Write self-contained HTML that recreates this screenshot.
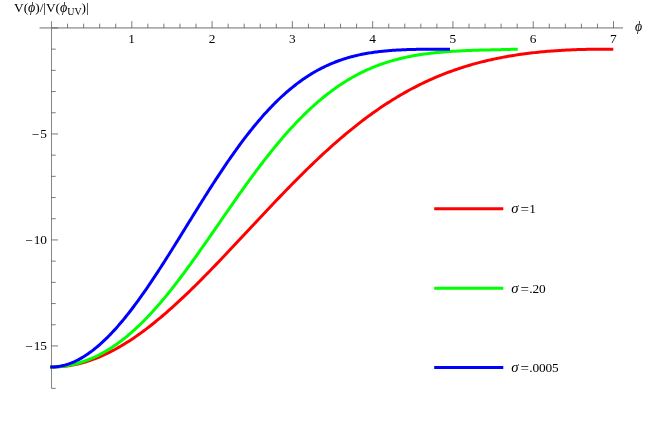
<!DOCTYPE html>
<html><head><meta charset="utf-8"><title>plot</title>
<style>
html,body{margin:0;padding:0;background:#fff;}
body{width:665px;height:427px;overflow:hidden;font-family:"Liberation Serif",serif;}
svg{display:block;will-change:transform;}
</style></head><body>
<svg width="665" height="427" viewBox="0 0 665 427">
<rect x="0" y="0" width="665" height="427" fill="#ffffff"/>
<g stroke="#555" stroke-width="0.85" fill="none">
<line x1="39.5" y1="27.95" x2="623" y2="27.95"/>
<line x1="51.5" y1="21.2" x2="51.5" y2="388.4" stroke="#868686" stroke-width="1"/>
<line x1="67.56" y1="27.95" x2="67.56" y2="23.65" stroke-width="0.7" stroke="#444"/>
<line x1="83.62" y1="27.95" x2="83.62" y2="23.65" stroke-width="0.7" stroke="#444"/>
<line x1="99.67" y1="27.95" x2="99.67" y2="23.65" stroke-width="0.7" stroke="#444"/>
<line x1="115.73" y1="27.95" x2="115.73" y2="23.65" stroke-width="0.7" stroke="#444"/>
<line x1="131.79" y1="27.95" x2="131.79" y2="21.15" stroke-width="0.7" stroke="#444"/>
<line x1="147.85" y1="27.95" x2="147.85" y2="23.65" stroke-width="0.7" stroke="#444"/>
<line x1="163.91" y1="27.95" x2="163.91" y2="23.65" stroke-width="0.7" stroke="#444"/>
<line x1="179.96" y1="27.95" x2="179.96" y2="23.65" stroke-width="0.7" stroke="#444"/>
<line x1="196.02" y1="27.95" x2="196.02" y2="23.65" stroke-width="0.7" stroke="#444"/>
<line x1="212.08" y1="27.95" x2="212.08" y2="21.15" stroke-width="0.7" stroke="#444"/>
<line x1="228.14" y1="27.95" x2="228.14" y2="23.65" stroke-width="0.7" stroke="#444"/>
<line x1="244.20" y1="27.95" x2="244.20" y2="23.65" stroke-width="0.7" stroke="#444"/>
<line x1="260.25" y1="27.95" x2="260.25" y2="23.65" stroke-width="0.7" stroke="#444"/>
<line x1="276.31" y1="27.95" x2="276.31" y2="23.65" stroke-width="0.7" stroke="#444"/>
<line x1="292.37" y1="27.95" x2="292.37" y2="21.15" stroke-width="0.7" stroke="#444"/>
<line x1="308.43" y1="27.95" x2="308.43" y2="23.65" stroke-width="0.7" stroke="#444"/>
<line x1="324.49" y1="27.95" x2="324.49" y2="23.65" stroke-width="0.7" stroke="#444"/>
<line x1="340.54" y1="27.95" x2="340.54" y2="23.65" stroke-width="0.7" stroke="#444"/>
<line x1="356.60" y1="27.95" x2="356.60" y2="23.65" stroke-width="0.7" stroke="#444"/>
<line x1="372.66" y1="27.95" x2="372.66" y2="21.15" stroke-width="0.7" stroke="#444"/>
<line x1="388.72" y1="27.95" x2="388.72" y2="23.65" stroke-width="0.7" stroke="#444"/>
<line x1="404.78" y1="27.95" x2="404.78" y2="23.65" stroke-width="0.7" stroke="#444"/>
<line x1="420.83" y1="27.95" x2="420.83" y2="23.65" stroke-width="0.7" stroke="#444"/>
<line x1="436.89" y1="27.95" x2="436.89" y2="23.65" stroke-width="0.7" stroke="#444"/>
<line x1="452.95" y1="27.95" x2="452.95" y2="21.15" stroke-width="0.7" stroke="#444"/>
<line x1="469.01" y1="27.95" x2="469.01" y2="23.65" stroke-width="0.7" stroke="#444"/>
<line x1="485.07" y1="27.95" x2="485.07" y2="23.65" stroke-width="0.7" stroke="#444"/>
<line x1="501.12" y1="27.95" x2="501.12" y2="23.65" stroke-width="0.7" stroke="#444"/>
<line x1="517.18" y1="27.95" x2="517.18" y2="23.65" stroke-width="0.7" stroke="#444"/>
<line x1="533.24" y1="27.95" x2="533.24" y2="21.15" stroke-width="0.7" stroke="#444"/>
<line x1="549.30" y1="27.95" x2="549.30" y2="23.65" stroke-width="0.7" stroke="#444"/>
<line x1="565.36" y1="27.95" x2="565.36" y2="23.65" stroke-width="0.7" stroke="#444"/>
<line x1="581.41" y1="27.95" x2="581.41" y2="23.65" stroke-width="0.7" stroke="#444"/>
<line x1="597.47" y1="27.95" x2="597.47" y2="23.65" stroke-width="0.7" stroke="#444"/>
<line x1="613.53" y1="27.95" x2="613.53" y2="21.15" stroke-width="0.7" stroke="#444"/>
<line x1="51.5" y1="27.95" x2="58.10" y2="27.95" stroke-width="0.7" stroke="#444"/>
<line x1="51.5" y1="49.15" x2="55.70" y2="49.15" stroke-width="0.7" stroke="#444"/>
<line x1="51.5" y1="70.35" x2="55.70" y2="70.35" stroke-width="0.7" stroke="#444"/>
<line x1="51.5" y1="91.55" x2="55.70" y2="91.55" stroke-width="0.7" stroke="#444"/>
<line x1="51.5" y1="112.75" x2="55.70" y2="112.75" stroke-width="0.7" stroke="#444"/>
<line x1="51.5" y1="133.95" x2="58.10" y2="133.95" stroke-width="0.7" stroke="#444"/>
<line x1="51.5" y1="155.15" x2="55.70" y2="155.15" stroke-width="0.7" stroke="#444"/>
<line x1="51.5" y1="176.35" x2="55.70" y2="176.35" stroke-width="0.7" stroke="#444"/>
<line x1="51.5" y1="197.55" x2="55.70" y2="197.55" stroke-width="0.7" stroke="#444"/>
<line x1="51.5" y1="218.75" x2="55.70" y2="218.75" stroke-width="0.7" stroke="#444"/>
<line x1="51.5" y1="239.95" x2="58.10" y2="239.95" stroke-width="0.7" stroke="#444"/>
<line x1="51.5" y1="261.15" x2="55.70" y2="261.15" stroke-width="0.7" stroke="#444"/>
<line x1="51.5" y1="282.35" x2="55.70" y2="282.35" stroke-width="0.7" stroke="#444"/>
<line x1="51.5" y1="303.55" x2="55.70" y2="303.55" stroke-width="0.7" stroke="#444"/>
<line x1="51.5" y1="324.75" x2="55.70" y2="324.75" stroke-width="0.7" stroke="#444"/>
<line x1="51.5" y1="345.95" x2="58.10" y2="345.95" stroke-width="0.7" stroke="#444"/>
<line x1="51.5" y1="367.15" x2="55.70" y2="367.15" stroke-width="0.7" stroke="#444"/>
<line x1="51.5" y1="388.35" x2="55.70" y2="388.35" stroke-width="0.7" stroke="#444"/>
</g>
<g font-family="Liberation Serif, serif" font-size="13.33" fill="#000">
<text x="131.69" y="43.3" text-anchor="middle">1</text>
<text x="211.98" y="43.3" text-anchor="middle">2</text>
<text x="292.27" y="43.3" text-anchor="middle">3</text>
<text x="372.56" y="43.3" text-anchor="middle">4</text>
<text x="452.85" y="43.3" text-anchor="middle">5</text>
<text x="533.14" y="43.3" text-anchor="middle">6</text>
<text x="613.43" y="43.3" text-anchor="middle">7</text>
<text x="47.0" y="138.25" text-anchor="end"><tspan dy="0.9">−</tspan><tspan dx="1.0" dy="-0.9">5</tspan></text>
<text x="47.0" y="244.25" text-anchor="end"><tspan dy="0.9">−</tspan><tspan dx="1.0" dy="-0.9">10</tspan></text>
<text x="47.0" y="350.25" text-anchor="end"><tspan dy="0.9">−</tspan><tspan dx="1.0" dy="-0.9">15</tspan></text>
</g>
<path d="M50.30,366.99 L51.50,366.99 L53.38,366.97 L55.26,366.93 L57.14,366.85 L59.02,366.74 L60.89,366.60 L62.77,366.43 L64.65,366.23 L66.53,366.00 L68.41,365.73 L70.29,365.43 L72.17,365.11 L74.05,364.75 L75.93,364.36 L77.81,363.94 L79.68,363.48 L81.56,363.00 L83.44,362.49 L85.32,361.94 L87.20,361.37 L89.08,360.76 L90.96,360.13 L92.84,359.46 L94.72,358.77 L96.59,358.04 L98.47,357.29 L100.35,356.50 L102.23,355.69 L104.11,354.85 L105.99,353.98 L107.87,353.08 L109.75,352.15 L111.63,351.20 L113.50,350.21 L115.38,349.20 L117.26,348.17 L119.14,347.10 L121.02,346.01 L122.90,344.90 L124.78,343.75 L126.66,342.59 L128.54,341.39 L130.42,340.18 L132.29,338.93 L134.17,337.67 L136.05,336.38 L137.93,335.06 L139.81,333.73 L141.69,332.37 L143.57,330.98 L145.45,329.58 L147.33,328.15 L149.20,326.71 L151.08,325.24 L152.96,323.75 L154.84,322.24 L156.72,320.71 L158.60,319.16 L160.48,317.59 L162.36,316.01 L164.24,314.40 L166.11,312.78 L167.99,311.14 L169.87,309.48 L171.75,307.81 L173.63,306.12 L175.51,304.41 L177.39,302.69 L179.27,300.95 L181.15,299.20 L183.03,297.43 L184.90,295.65 L186.78,293.86 L188.66,292.05 L190.54,290.24 L192.42,288.40 L194.30,286.56 L196.18,284.71 L198.06,282.84 L199.94,280.96 L201.81,279.08 L203.69,277.18 L205.57,275.27 L207.45,273.36 L209.33,271.43 L211.21,269.50 L213.09,267.56 L214.97,265.61 L216.85,263.66 L218.72,261.70 L220.60,259.73 L222.48,257.76 L224.36,255.78 L226.24,253.80 L228.12,251.81 L230.00,249.82 L231.88,247.82 L233.76,245.82 L235.64,243.82 L237.51,241.82 L239.39,239.81 L241.27,237.80 L243.15,235.79 L245.03,233.78 L246.91,231.77 L248.79,229.76 L250.67,227.75 L252.55,225.74 L254.42,223.73 L256.30,221.72 L258.18,219.71 L260.06,217.71 L261.94,215.71 L263.82,213.71 L265.70,211.71 L267.58,209.72 L269.46,207.73 L271.33,205.74 L273.21,203.76 L275.09,201.79 L276.97,199.82 L278.85,197.85 L280.73,195.90 L282.61,193.94 L284.49,192.00 L286.37,190.06 L288.25,188.13 L290.12,186.20 L292.00,184.29 L293.88,182.38 L295.76,180.48 L297.64,178.59 L299.52,176.71 L301.40,174.84 L303.28,172.98 L305.16,171.13 L307.03,169.29 L308.91,167.45 L310.79,165.63 L312.67,163.83 L314.55,162.03 L316.43,160.24 L318.31,158.47 L320.19,156.71 L322.07,154.96 L323.94,153.22 L325.82,151.50 L327.70,149.78 L329.58,148.09 L331.46,146.40 L333.34,144.73 L335.22,143.07 L337.10,141.43 L338.98,139.80 L340.86,138.19 L342.73,136.59 L344.61,135.00 L346.49,133.43 L348.37,131.87 L350.25,130.33 L352.13,128.81 L354.01,127.30 L355.89,125.80 L357.77,124.33 L359.64,122.86 L361.52,121.42 L363.40,119.99 L365.28,118.57 L367.16,117.17 L369.04,115.79 L370.92,114.42 L372.80,113.07 L374.68,111.74 L376.55,110.42 L378.43,109.12 L380.31,107.84 L382.19,106.57 L384.07,105.32 L385.95,104.08 L387.83,102.87 L389.71,101.66 L391.59,100.48 L393.47,99.31 L395.34,98.16 L397.22,97.03 L399.10,95.91 L400.98,94.81 L402.86,93.72 L404.74,92.65 L406.62,91.60 L408.50,90.56 L410.38,89.54 L412.25,88.54 L414.13,87.55 L416.01,86.58 L417.89,85.63 L419.77,84.69 L421.65,83.76 L423.53,82.86 L425.41,81.97 L427.29,81.09 L429.16,80.23 L431.04,79.38 L432.92,78.55 L434.80,77.74 L436.68,76.94 L438.56,76.15 L440.44,75.38 L442.32,74.63 L444.20,73.89 L446.08,73.16 L447.95,72.45 L449.83,71.75 L451.71,71.07 L453.59,70.40 L455.47,69.74 L457.35,69.10 L459.23,68.47 L461.11,67.86 L462.99,67.25 L464.86,66.66 L466.74,66.09 L468.62,65.52 L470.50,64.97 L472.38,64.43 L474.26,63.91 L476.14,63.39 L478.02,62.89 L479.90,62.40 L481.77,61.92 L483.65,61.45 L485.53,61.00 L487.41,60.55 L489.29,60.12 L491.17,59.69 L493.05,59.28 L494.93,58.88 L496.81,58.49 L498.69,58.11 L500.56,57.73 L502.44,57.37 L504.32,57.02 L506.20,56.68 L508.08,56.35 L509.96,56.03 L511.84,55.71 L513.72,55.41 L515.60,55.11 L517.47,54.83 L519.35,54.55 L521.23,54.28 L523.11,54.02 L524.99,53.77 L526.87,53.52 L528.75,53.29 L530.63,53.06 L532.51,52.84 L534.38,52.63 L536.26,52.42 L538.14,52.22 L540.02,52.03 L541.90,51.85 L543.78,51.67 L545.66,51.50 L547.54,51.34 L549.42,51.19 L551.30,51.04 L553.17,50.90 L555.05,50.76 L556.93,50.63 L558.81,50.51 L560.69,50.39 L562.57,50.28 L564.45,50.18 L566.33,50.08 L568.21,49.98 L570.08,49.90 L571.96,49.81 L573.84,49.74 L575.72,49.67 L577.60,49.60 L579.48,49.54 L581.36,49.49 L583.24,49.43 L585.12,49.39 L586.99,49.35 L588.87,49.31 L590.75,49.28 L592.63,49.25 L594.51,49.22 L596.39,49.20 L598.27,49.19 L600.15,49.17 L602.03,49.16 L603.91,49.15 L605.78,49.15 L607.66,49.14 L609.54,49.14 L611.42,49.14 L613.30,49.14" stroke="#ff0000" stroke-width="3" fill="none" stroke-linejoin="round"/>
<path d="M50.30,366.99 L51.50,366.99 L53.06,366.98 L54.62,366.94 L56.18,366.87 L57.74,366.77 L59.30,366.65 L60.86,366.51 L62.42,366.34 L63.98,366.14 L65.54,365.92 L67.10,365.67 L68.65,365.39 L70.21,365.09 L71.77,364.77 L73.33,364.42 L74.89,364.04 L76.45,363.64 L78.01,363.21 L79.57,362.76 L81.13,362.28 L82.69,361.77 L84.25,361.24 L85.81,360.68 L87.37,360.10 L88.93,359.49 L90.49,358.86 L92.05,358.20 L93.61,357.51 L95.17,356.79 L96.73,356.05 L98.29,355.29 L99.85,354.49 L101.41,353.67 L102.96,352.82 L104.52,351.95 L106.08,351.04 L107.64,350.11 L109.20,349.15 L110.76,348.17 L112.32,347.16 L113.88,346.12 L115.44,345.05 L117.00,343.95 L118.56,342.83 L120.12,341.68 L121.68,340.50 L123.24,339.29 L124.80,338.06 L126.36,336.80 L127.92,335.51 L129.48,334.20 L131.04,332.85 L132.60,331.48 L134.16,330.09 L135.71,328.66 L137.27,327.21 L138.83,325.74 L140.39,324.23 L141.95,322.71 L143.51,321.15 L145.07,319.57 L146.63,317.96 L148.19,316.33 L149.75,314.68 L151.31,313.00 L152.87,311.29 L154.43,309.57 L155.99,307.82 L157.55,306.04 L159.11,304.25 L160.67,302.43 L162.23,300.59 L163.79,298.72 L165.35,296.84 L166.91,294.94 L168.46,293.01 L170.02,291.07 L171.58,289.11 L173.14,287.13 L174.70,285.13 L176.26,283.11 L177.82,281.08 L179.38,279.03 L180.94,276.97 L182.50,274.89 L184.06,272.79 L185.62,270.69 L187.18,268.56 L188.74,266.43 L190.30,264.28 L191.86,262.12 L193.42,259.95 L194.98,257.78 L196.54,255.59 L198.10,253.39 L199.66,251.18 L201.22,248.97 L202.77,246.75 L204.33,244.52 L205.89,242.28 L207.45,240.05 L209.01,237.80 L210.57,235.55 L212.13,233.30 L213.69,231.05 L215.25,228.80 L216.81,226.54 L218.37,224.28 L219.93,222.03 L221.49,219.77 L223.05,217.52 L224.61,215.26 L226.17,213.01 L227.73,210.77 L229.29,208.52 L230.85,206.28 L232.41,204.05 L233.97,201.82 L235.52,199.59 L237.08,197.38 L238.64,195.17 L240.20,192.97 L241.76,190.77 L243.32,188.59 L244.88,186.41 L246.44,184.24 L248.00,182.09 L249.56,179.94 L251.12,177.81 L252.68,175.69 L254.24,173.58 L255.80,171.48 L257.36,169.40 L258.92,167.33 L260.48,165.27 L262.04,163.23 L263.60,161.20 L265.16,159.18 L266.72,157.19 L268.27,155.21 L269.83,153.24 L271.39,151.29 L272.95,149.36 L274.51,147.44 L276.07,145.55 L277.63,143.67 L279.19,141.80 L280.75,139.96 L282.31,138.13 L283.87,136.33 L285.43,134.54 L286.99,132.77 L288.55,131.02 L290.11,129.29 L291.67,127.59 L293.23,125.90 L294.79,124.23 L296.35,122.58 L297.91,120.95 L299.47,119.34 L301.03,117.76 L302.58,116.19 L304.14,114.64 L305.70,113.12 L307.26,111.62 L308.82,110.14 L310.38,108.68 L311.94,107.24 L313.50,105.82 L315.06,104.43 L316.62,103.05 L318.18,101.70 L319.74,100.37 L321.30,99.06 L322.86,97.77 L324.42,96.50 L325.98,95.26 L327.54,94.03 L329.10,92.83 L330.66,91.65 L332.22,90.49 L333.78,89.35 L335.33,88.24 L336.89,87.14 L338.45,86.06 L340.01,85.01 L341.57,83.98 L343.13,82.96 L344.69,81.97 L346.25,81.00 L347.81,80.05 L349.37,79.12 L350.93,78.21 L352.49,77.32 L354.05,76.44 L355.61,75.59 L357.17,74.76 L358.73,73.95 L360.29,73.15 L361.85,72.37 L363.41,71.62 L364.97,70.88 L366.53,70.16 L368.08,69.46 L369.64,68.77 L371.20,68.10 L372.76,67.45 L374.32,66.82 L375.88,66.21 L377.44,65.61 L379.00,65.02 L380.56,64.46 L382.12,63.91 L383.68,63.37 L385.24,62.85 L386.80,62.35 L388.36,61.86 L389.92,61.38 L391.48,60.92 L393.04,60.47 L394.60,60.04 L396.16,59.62 L397.72,59.22 L399.28,58.82 L400.84,58.44 L402.39,58.08 L403.95,57.72 L405.51,57.38 L407.07,57.05 L408.63,56.72 L410.19,56.42 L411.75,56.12 L413.31,55.83 L414.87,55.55 L416.43,55.28 L417.99,55.03 L419.55,54.78 L421.11,54.54 L422.67,54.31 L424.23,54.09 L425.79,53.88 L427.35,53.67 L428.91,53.48 L430.47,53.29 L432.03,53.11 L433.59,52.93 L435.14,52.77 L436.70,52.61 L438.26,52.46 L439.82,52.31 L441.38,52.17 L442.94,52.03 L444.50,51.91 L446.06,51.78 L447.62,51.66 L449.18,51.55 L450.74,51.44 L452.30,51.34 L453.86,51.24 L455.42,51.15 L456.98,51.06 L458.54,50.97 L460.10,50.89 L461.66,50.82 L463.22,50.74 L464.78,50.67 L466.34,50.60 L467.89,50.54 L469.45,50.48 L471.01,50.42 L472.57,50.36 L474.13,50.31 L475.69,50.26 L477.25,50.21 L478.81,50.16 L480.37,50.12 L481.93,50.08 L483.49,50.03 L485.05,49.99 L486.61,49.96 L488.17,49.92 L489.73,49.88 L491.29,49.85 L492.85,49.82 L494.41,49.78 L495.97,49.75 L497.53,49.72 L499.09,49.68 L500.65,49.65 L502.20,49.61 L503.76,49.58 L505.32,49.54 L506.88,49.50 L508.44,49.45 L510.00,49.41 L511.56,49.35 L513.12,49.30 L514.68,49.24 L516.24,49.18 L517.80,49.14" stroke="#00ff00" stroke-width="3" fill="none" stroke-linejoin="round"/>
<path d="M50.30,366.99 L51.50,366.99 L52.83,366.97 L54.17,366.91 L55.50,366.82 L56.83,366.69 L58.16,366.52 L59.50,366.32 L60.83,366.08 L62.16,365.80 L63.49,365.49 L64.83,365.15 L66.16,364.77 L67.49,364.35 L68.83,363.90 L70.16,363.42 L71.49,362.91 L72.82,362.36 L74.16,361.78 L75.49,361.16 L76.82,360.51 L78.16,359.84 L79.49,359.12 L80.82,358.38 L82.15,357.61 L83.49,356.81 L84.82,355.97 L86.15,355.10 L87.48,354.21 L88.82,353.28 L90.15,352.33 L91.48,351.34 L92.82,350.33 L94.15,349.29 L95.48,348.21 L96.81,347.11 L98.15,345.99 L99.48,344.83 L100.81,343.65 L102.15,342.44 L103.48,341.20 L104.81,339.93 L106.14,338.64 L107.48,337.32 L108.81,335.98 L110.14,334.61 L111.47,333.22 L112.81,331.80 L114.14,330.36 L115.47,328.89 L116.81,327.40 L118.14,325.88 L119.47,324.35 L120.80,322.79 L122.14,321.20 L123.47,319.60 L124.80,317.97 L126.14,316.32 L127.47,314.65 L128.80,312.96 L130.13,311.25 L131.47,309.51 L132.80,307.76 L134.13,305.99 L135.46,304.20 L136.80,302.40 L138.13,300.57 L139.46,298.73 L140.80,296.87 L142.13,294.99 L143.46,293.10 L144.79,291.19 L146.13,289.27 L147.46,287.33 L148.79,285.38 L150.13,283.41 L151.46,281.43 L152.79,279.44 L154.12,277.43 L155.46,275.42 L156.79,273.39 L158.12,271.35 L159.45,269.29 L160.79,267.23 L162.12,265.16 L163.45,263.08 L164.79,260.99 L166.12,258.90 L167.45,256.79 L168.78,254.68 L170.12,252.56 L171.45,250.44 L172.78,248.31 L174.12,246.18 L175.45,244.04 L176.78,241.89 L178.11,239.75 L179.45,237.60 L180.78,235.44 L182.11,233.29 L183.44,231.13 L184.78,228.98 L186.11,226.82 L187.44,224.66 L188.78,222.50 L190.11,220.35 L191.44,218.19 L192.77,216.04 L194.11,213.89 L195.44,211.74 L196.77,209.59 L198.11,207.45 L199.44,205.31 L200.77,203.18 L202.10,201.05 L203.44,198.93 L204.77,196.82 L206.10,194.71 L207.43,192.61 L208.77,190.51 L210.10,188.43 L211.43,186.35 L212.77,184.28 L214.10,182.22 L215.43,180.16 L216.76,178.12 L218.10,176.09 L219.43,174.07 L220.76,172.06 L222.10,170.06 L223.43,168.07 L224.76,166.10 L226.09,164.14 L227.43,162.19 L228.76,160.25 L230.09,158.33 L231.42,156.42 L232.76,154.52 L234.09,152.64 L235.42,150.77 L236.76,148.92 L238.09,147.08 L239.42,145.26 L240.75,143.46 L242.09,141.67 L243.42,139.89 L244.75,138.14 L246.09,136.40 L247.42,134.67 L248.75,132.96 L250.08,131.27 L251.42,129.60 L252.75,127.95 L254.08,126.31 L255.41,124.69 L256.75,123.09 L258.08,121.51 L259.41,119.94 L260.75,118.40 L262.08,116.87 L263.41,115.36 L264.74,113.87 L266.08,112.40 L267.41,110.95 L268.74,109.52 L270.08,108.10 L271.41,106.71 L272.74,105.34 L274.07,103.98 L275.41,102.64 L276.74,101.33 L278.07,100.03 L279.40,98.75 L280.74,97.50 L282.07,96.26 L283.40,95.04 L284.74,93.84 L286.07,92.66 L287.40,91.50 L288.73,90.36 L290.07,89.24 L291.40,88.14 L292.73,87.05 L294.07,85.99 L295.40,84.95 L296.73,83.92 L298.06,82.91 L299.40,81.93 L300.73,80.96 L302.06,80.01 L303.39,79.08 L304.73,78.17 L306.06,77.27 L307.39,76.40 L308.73,75.54 L310.06,74.70 L311.39,73.88 L312.72,73.08 L314.06,72.29 L315.39,71.53 L316.72,70.78 L318.06,70.04 L319.39,69.33 L320.72,68.63 L322.05,67.94 L323.39,67.28 L324.72,66.63 L326.05,66.00 L327.38,65.38 L328.72,64.78 L330.05,64.19 L331.38,63.62 L332.72,63.07 L334.05,62.53 L335.38,62.00 L336.71,61.49 L338.05,61.00 L339.38,60.52 L340.71,60.05 L342.05,59.60 L343.38,59.16 L344.71,58.73 L346.04,58.32 L347.38,57.92 L348.71,57.53 L350.04,57.15 L351.37,56.79 L352.71,56.44 L354.04,56.10 L355.37,55.77 L356.71,55.45 L358.04,55.15 L359.37,54.85 L360.70,54.57 L362.04,54.30 L363.37,54.03 L364.70,53.78 L366.04,53.54 L367.37,53.30 L368.70,53.08 L370.03,52.86 L371.37,52.65 L372.70,52.46 L374.03,52.27 L375.36,52.08 L376.70,51.91 L378.03,51.74 L379.36,51.58 L380.70,51.43 L382.03,51.29 L383.36,51.15 L384.69,51.02 L386.03,50.89 L387.36,50.77 L388.69,50.66 L390.03,50.55 L391.36,50.45 L392.69,50.36 L394.02,50.27 L395.36,50.18 L396.69,50.10 L398.02,50.02 L399.35,49.95 L400.69,49.88 L402.02,49.82 L403.35,49.76 L404.69,49.71 L406.02,49.65 L407.35,49.61 L408.68,49.56 L410.02,49.52 L411.35,49.48 L412.68,49.44 L414.02,49.41 L415.35,49.38 L416.68,49.35 L418.01,49.33 L419.35,49.30 L420.68,49.28 L422.01,49.26 L423.34,49.25 L424.68,49.23 L426.01,49.22 L427.34,49.20 L428.68,49.19 L430.01,49.18 L431.34,49.17 L432.67,49.17 L434.01,49.16 L435.34,49.16 L436.67,49.15 L438.01,49.15 L439.34,49.15 L440.67,49.14 L442.00,49.14 L443.34,49.14 L444.67,49.14 L446.00,49.14 L447.33,49.14 L448.67,49.14 L450.00,49.14" stroke="#0000ff" stroke-width="3" fill="none" stroke-linejoin="round"/>
<line x1="434.2" y1="208.8" x2="503.3" y2="208.8" stroke="#ff0000" stroke-width="3"/>
<line x1="434.2" y1="288.2" x2="503.3" y2="288.2" stroke="#00ff00" stroke-width="3"/>
<line x1="434.2" y1="367.4" x2="503.3" y2="367.4" stroke="#0000ff" stroke-width="3"/>
<g font-family="Liberation Serif, serif" font-size="13.33" fill="#000">
<text x="511.3" y="213.39999999999998"><tspan font-style="italic" font-size="14.8">σ</tspan><tspan dx="2.0" font-size="15" dy="1.0">=</tspan><tspan dx="0.1" dy="-1.0" letter-spacing="-0.1">1</tspan></text>
<text x="511.3" y="292.8"><tspan font-style="italic" font-size="14.8">σ</tspan><tspan dx="2.0" font-size="15" dy="1.0">=</tspan><tspan dx="0.1" dy="-1.0" letter-spacing="-0.1">.20</tspan></text>
<text x="511.3" y="371.8"><tspan font-style="italic" font-size="14.8">σ</tspan><tspan dx="2.0" font-size="15" dy="1.0">=</tspan><tspan dx="0.1" dy="-1.0" letter-spacing="-0.1">.0005</tspan></text>
<text x="634.9" y="30.7" font-size="13.8" font-style="italic">ϕ</text>
<text x="14.1" y="12.3" letter-spacing="-0.04">V(<tspan font-style="italic" font-size="14">ϕ</tspan>)/|V(<tspan font-style="italic" font-size="14">ϕ</tspan><tspan font-size="10" dy="2.8">UV</tspan><tspan dy="-2.8">)|</tspan></text>
</g>
</svg>
</body></html>
